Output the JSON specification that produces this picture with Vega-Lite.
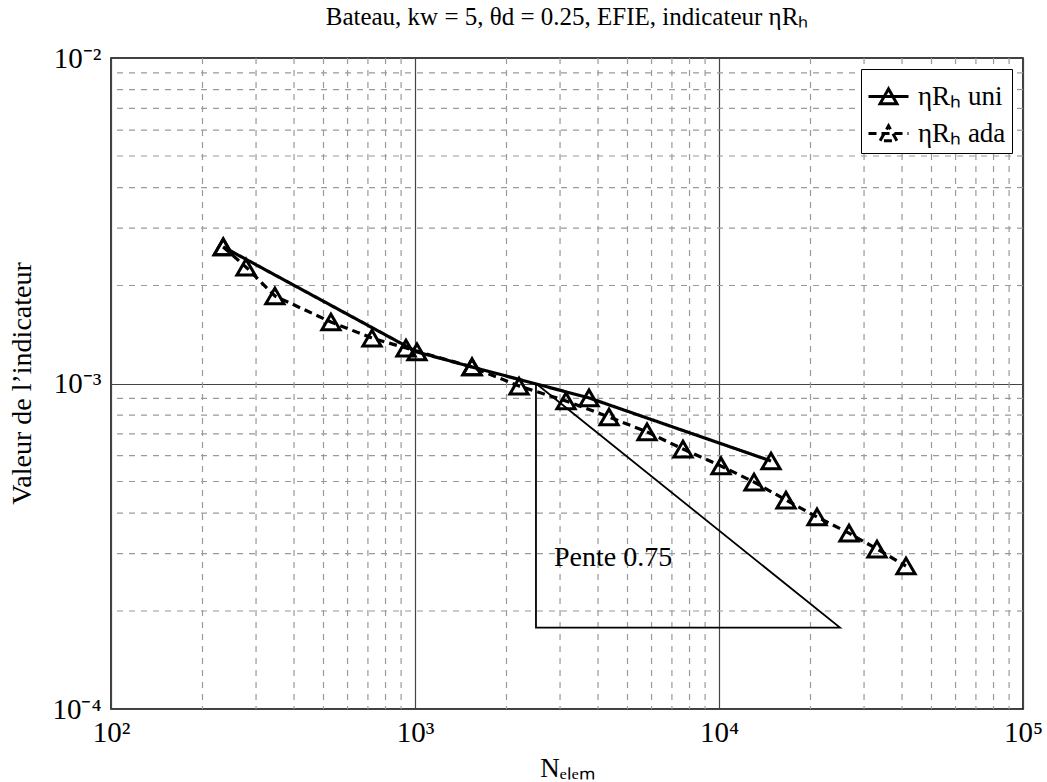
{
  "$schema": "https://vega.github.io/schema/vega-lite/v6.json",
  "width": 912,
  "height": 651,
  "autosize": {"type": "none"},
  "padding": {"left": 111, "top": 58, "right": 24, "bottom": 73},
  "background": "white",
  "title": {
    "text": "Bateau, kw = 5, θd = 0.25, EFIE, indicateur ηRₕ",
    "font": "Liberation Serif",
    "fontSize": 25,
    "fontWeight": "normal",
    "color": "black",
    "baseline": "alphabetic",
    "offset": -6,
    "anchor": "middle"
  },
  "layer": [
    {
      "data": {"values": [
        {"g": 200}, {"g": 300}, {"g": 400}, {"g": 500}, {"g": 600}, {"g": 700}, {"g": 800}, {"g": 900},
        {"g": 2000}, {"g": 3000}, {"g": 4000}, {"g": 5000}, {"g": 6000}, {"g": 7000}, {"g": 8000}, {"g": 9000},
        {"g": 20000}, {"g": 30000}, {"g": 40000}, {"g": 50000}, {"g": 60000}, {"g": 70000}, {"g": 80000}, {"g": 90000}
      ]},
      "mark": {"type": "rule", "color": "#9a9a9a", "strokeWidth": 1.2, "strokeDash": [6, 6]},
      "encoding": {
        "x": {
          "field": "g",
          "type": "quantitative",
          "scale": {"type": "log", "domain": [100, 100000], "nice": false},
          "axis": {
            "values": [100, 1000, 10000, 100000],
            "labelExpr": "datum.value < 500 ? '10²' : datum.value < 5000 ? '10³' : datum.value < 50000 ? '10⁴' : '10⁵'",
            "grid": true,
            "gridColor": "#444444",
            "gridWidth": 1.2,
            "ticks": false,
            "domain": false,
            "labelFont": "Liberation Serif",
            "labelFontSize": 29,
            "labelColor": "black",
            "labelBaseline": "top",
            "labelPadding": 9,
            "labelFlush": false,
            "labelOverlap": false,
            "title": "Nₑₗₑₘ",
            "titleFont": "Liberation Serif",
            "titleFontSize": 27,
            "titleFontWeight": "normal",
            "titleColor": "black",
            "titleX": 456,
            "titleY": 59,
            "titleBaseline": "middle"
          }
        }
      }
    },
    {
      "data": {"values": [
        {"g": 0.0002}, {"g": 0.0003}, {"g": 0.0004}, {"g": 0.0005}, {"g": 0.0006}, {"g": 0.0007}, {"g": 0.0008}, {"g": 0.0009},
        {"g": 0.002}, {"g": 0.003}, {"g": 0.004}, {"g": 0.005}, {"g": 0.006}, {"g": 0.007}, {"g": 0.008}, {"g": 0.009}
      ]},
      "mark": {"type": "rule", "color": "#9a9a9a", "strokeWidth": 1.2, "strokeDash": [6, 6]},
      "encoding": {
        "y": {
          "field": "g",
          "type": "quantitative",
          "scale": {"type": "log", "domain": [0.0001, 0.01], "nice": false},
          "axis": {
            "values": [0.0001, 0.001, 0.01],
            "labelExpr": "datum.value < 0.0005 ? '10⁻⁴' : datum.value < 0.005 ? '10⁻³' : '10⁻²'",
            "grid": true,
            "gridColor": "#444444",
            "gridWidth": 1.2,
            "ticks": false,
            "domain": false,
            "labelFont": "Liberation Serif",
            "labelFontSize": 29,
            "labelColor": "black",
            "labelPadding": 10,
            "labelFlush": false,
            "labelOverlap": false,
            "title": "Valeur de l’indicateur",
            "titleFont": "Liberation Serif",
            "titleFontSize": 28,
            "titleFontWeight": "normal",
            "titleColor": "black",
            "titleX": -89,
            "titleY": 325,
            "titleBaseline": "middle",
            "titleAngle": 270
          }
        }
      }
    },
    {
      "data": {"values": [
        {"N": 2500, "v": 0.001, "o": 0},
        {"N": 2500, "v": 0.0001778, "o": 1},
        {"N": 25000, "v": 0.0001778, "o": 2},
        {"N": 2500, "v": 0.001, "o": 3}
      ]},
      "mark": {"type": "line", "color": "black", "strokeWidth": 1.8},
      "encoding": {
        "x": {"field": "N", "type": "quantitative"},
        "y": {"field": "v", "type": "quantitative"},
        "order": {"field": "o", "type": "quantitative"}
      }
    },
    {
      "data": {"values": [{"N": 2865, "v": 0.000291, "label": "Pente 0.75"}]},
      "mark": {"type": "text", "align": "left", "baseline": "middle", "font": "Liberation Serif", "fontSize": 28, "color": "black"},
      "encoding": {
        "x": {"field": "N", "type": "quantitative"},
        "y": {"field": "v", "type": "quantitative"},
        "text": {"field": "label"}
      }
    },
    {
      "data": {"values": [
        {"series": "uni", "N": 234, "v": 0.002627},
        {"series": "uni", "N": 1015, "v": 0.00125},
        {"series": "uni", "N": 1540, "v": 0.001124},
        {"series": "uni", "N": 3736, "v": 0.000903},
        {"series": "uni", "N": 14830, "v": 0.000578},
        {"series": "ada", "N": 234, "v": 0.002627},
        {"series": "ada", "N": 278, "v": 0.002279},
        {"series": "ada", "N": 346, "v": 0.001857},
        {"series": "ada", "N": 529, "v": 0.001545},
        {"series": "ada", "N": 722, "v": 0.001379},
        {"series": "ada", "N": 934, "v": 0.001285},
        {"series": "ada", "N": 1540, "v": 0.001124},
        {"series": "ada", "N": 2199, "v": 0.000982},
        {"series": "ada", "N": 3139, "v": 0.000884},
        {"series": "ada", "N": 4347, "v": 0.000789},
        {"series": "ada", "N": 5797, "v": 0.00071},
        {"series": "ada", "N": 7613, "v": 0.000629},
        {"series": "ada", "N": 10153, "v": 0.000558},
        {"series": "ada", "N": 13037, "v": 0.000498},
        {"series": "ada", "N": 16610, "v": 0.0004385},
        {"series": "ada", "N": 21010, "v": 0.000389},
        {"series": "ada", "N": 26770, "v": 0.000347},
        {"series": "ada", "N": 33090, "v": 0.00031},
        {"series": "ada", "N": 41220, "v": 0.000275}
      ]},
      "layer": [
        {
          "mark": {"type": "line", "color": "black", "strokeWidth": 3.2},
          "encoding": {
            "x": {"field": "N", "type": "quantitative"},
            "y": {"field": "v", "type": "quantitative"},
            "strokeDash": {
              "field": "series",
              "type": "nominal",
              "scale": {"domain": ["uni", "ada"], "range": [[1, 0], [8, 5]]},
              "legend": {
                "title": null,
                "orient": "top-right",
                "offset": 11,
                "symbolType": "M-1,0H1M-0.42,0.36L0,-0.38L0.42,0.36Z",
                "symbolSize": 1600,
                "symbolStrokeWidth": 3,
                "symbolStrokeColor": "black",
                "symbolFillColor": "transparent",
                "labelFont": "Liberation Serif",
                "labelFontSize": 27,
                "labelColor": "black",
                "labelExpr": "'ηRₕ ' + datum.label",
                "labelOffset": 8,
                "strokeColor": "black",
                "fillColor": "white",
                "padding": 6,
                "rowPadding": 2,
                "cornerRadius": 0
              }
            }
          }
        },
        {
          "mark": {"type": "point", "shape": "triangle-up", "size": 330, "filled": false, "stroke": "black", "strokeWidth": 3, "opacity": 1},
          "encoding": {
            "x": {"field": "N", "type": "quantitative"},
            "y": {"field": "v", "type": "quantitative"}
          }
        }
      ]
    }
  ],
  "config": {
    "view": {"stroke": "black", "strokeWidth": 1.5}
  }
}
